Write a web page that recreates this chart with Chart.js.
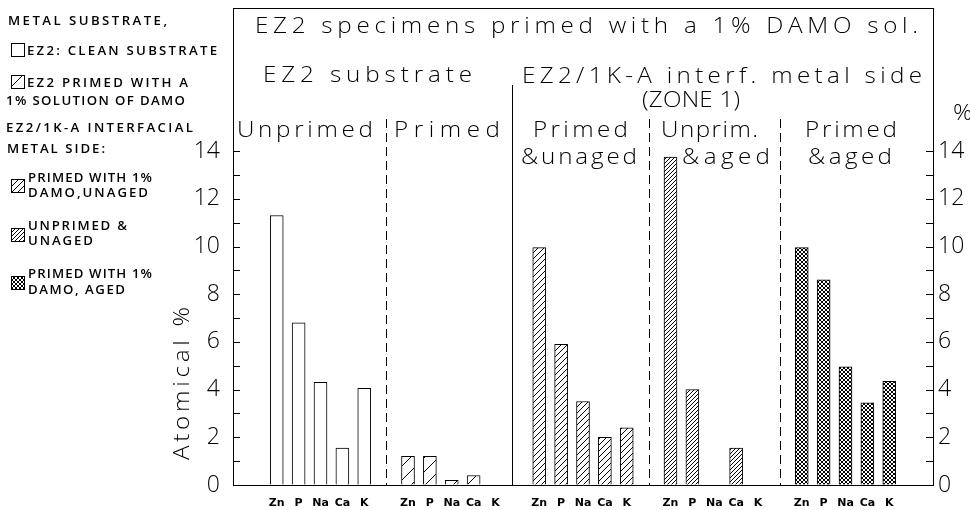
<!DOCTYPE html>
<html>
<head>
<meta charset="utf-8">
<script src="https://cdn.jsdelivr.net/npm/chart.js@4.4.1/dist/chart.umd.min.js"></script>
<style>
  html, body { margin: 0; padding: 0; background: #fff; }
</style>
</head>
<body>
<canvas id="atomChart" width="970" height="510"></canvas>
<script>
// elements on the x axis, same order in every group
const elements = ['Zn', 'P', 'Na', 'Ca', 'K'];

// atomical % per element, one array per specimen (null = no bar)
const cleanSubstrate  = [11.3, 6.8, 4.3, 1.55, 4.05];
const primedSubstrate = [1.2, 1.2, 0.2, 0.4, null];
const primedUnaged    = [9.95, 5.9, 3.5, 2.0, 2.4];
const unprimedUnaged  = [13.75, 4.0, null, 1.55, null];
const primedAged      = [9.95, 8.6, 4.95, 3.45, 4.35];

const yTicks = [0, 2, 4, 6, 8, 10, 12, 14];

const series = [cleanSubstrate, primedSubstrate, primedUnaged, unprimedUnaged, primedAged];

// 2 empty slots in front, a gap slot after each group, one extra at the end
const labels = ['', ''];
series.forEach(() => {
    elements.forEach(e => labels.push(e));
    labels.push('');
});
labels.push('');

function slotData(g) {
    const arr = labels.map(() => null);
    series[g].forEach((v, k) => { arr[2 + g * 6 + k] = v; });
    return arr;
}

// ======== fill patterns =========
const canvas = document.getElementById('atomChart');
const ctx = canvas.getContext('2d');

function makePattern(size, draw) {
    const c = document.createElement('canvas');
    c.width = size;
    c.height = size;
    const p = c.getContext('2d');
    p.fillStyle = '#fff';
    p.fillRect(0, 0, size, size);
    p.fillStyle = '#000';
    draw(p, size);
    return ctx.createPattern(c, 'repeat');
}
function rising(p, s) {
    for (let i = 0; i < s; i++) p.fillRect(i, s - 1 - i, 1, 1);
}
function cross(p, s) {
    for (let i = 0; i < s; i++) {
        p.fillRect(i, s - 1 - i, 1, 1);
        p.fillRect(i, i, 1, 1);
    }
}

const fills = [
    '#ffffff',
    makePattern(14, rising),
    makePattern(6, rising),
    makePattern(4, rising),
    makePattern(4, cross)
];

// ======== text helper: stretched, letter-spaced text fitted between x1 and x2 =========
function spaced(c, text, x1, x2, y, font, stretch) {
    const k = stretch || 1;
    c.save();
    c.font = font;
    c.letterSpacing = '0px';
    const w = c.measureText(text).width;
    const ls = text.length > 1 ? ((x2 - x1) / k - w) / (text.length - 1) : 0;
    c.letterSpacing = ls + 'px';
    c.textAlign = 'left';
    c.textBaseline = 'alphabetic';
    c.translate(x1, y);
    c.scale(k, 1);
    c.fillText(text, 0, 0);
    c.restore();
}

const headFont = '300 22px "Open Sans"';
const headStretch = 1.1;
const legFont = '600 12px "Open Sans"';

const headTexts = [
    ['EZ2 specimens primed with a 1% DAMO sol.', 255, 918, 33],
    ['EZ2 substrate', 263, 472, 82],
    ['EZ2/1K-A interf. metal side', 522, 922, 83],
    ['(ZONE 1)', 642, 740, 107],
    ['%', 953, 965, 120],
    ['Unprimed', 237, 373, 137],
    ['Primed', 394, 500, 137],
    ['Primed', 533, 628, 137],
    ['&unaged', 521, 637, 164],
    ['Unprim.', 661, 758, 137],
    ['&aged', 682, 770, 164],
    ['Primed', 805, 897, 137],
    ['&aged', 808, 892, 164]
];

const legendTexts = [
    ['METAL SUBSTRATE,', 8, 167, 25],
    ['EZ2: CLEAN SUBSTRATE', 27, 217, 55],
    ['EZ2 PRIMED WITH A', 27, 188, 87],
    ['1% SOLUTION OF DAMO', 6, 185, 105],
    ['EZ2/1K-A INTERFACIAL', 6, 193, 132],
    ['METAL SIDE:', 7, 105, 153],
    ['PRIMED WITH 1%', 28, 152, 182],
    ['DAMO,UNAGED', 28, 148, 197],
    ['UNPRIMED &', 28, 127, 230],
    ['UNAGED', 28, 93, 245],
    ['PRIMED WITH 1%', 28, 152, 278],
    ['DAMO, AGED', 28, 125, 294]
];
// swatch top per series
const legendBoxes = [43, 75, 179, 228, 276];

const overlay = {
    id: 'overlay',
    afterDraw(chart) {
        const c = chart.ctx;
        const area = chart.chartArea;
        const xs = chart.scales.x;
        const ys = chart.scales.y;
        c.save();
        c.strokeStyle = '#000';
        c.fillStyle = '#000';
        c.lineWidth = 1;

        // top frame line
        c.beginPath();
        c.moveTo(area.left, area.top + 0.5);
        c.lineTo(area.right, area.top + 0.5);
        c.stroke();

        // inward ticks on both value axes
        for (let v = 0; v <= 14; v++) {
            const py = Math.round(ys.getPixelForValue(v)) + 0.5;
            c.beginPath();
            c.moveTo(area.left, py);
            c.lineTo(area.left + 7, py);
            c.moveTo(area.right - 7, py);
            c.lineTo(area.right, py);
            c.stroke();
        }

        // substrate / interface separator
        const sx = Math.round(xs.getPixelForValue(12.75)) + 0.5;
        c.beginPath();
        c.moveTo(sx, 85);
        c.lineTo(sx, area.bottom);
        c.stroke();

        // dashed group separators
        c.setLineDash([9, 5]);
        [7, 19, 25].forEach(i => {
            const dx = Math.round(xs.getPixelForValue(i)) + 0.5;
            c.beginPath();
            c.moveTo(dx, 119);
            c.lineTo(dx, area.bottom);
            c.stroke();
        });
        c.setLineDash([]);

        headTexts.forEach(t => spaced(c, t[0], t[1], t[2], t[3], headFont, headStretch));

        // y title
        c.save();
        c.translate(189, 460);
        c.rotate(-Math.PI / 2);
        spaced(c, 'Atomical %', 0, 153, 0, headFont, headStretch);
        c.restore();

        // legend
        legendTexts.forEach(t => spaced(c, t[0], t[1], t[2], t[3], legFont, 1.1));
        legendBoxes.forEach((top, g) => {
            c.fillStyle = fills[g];
            c.fillRect(11, top, 13, 13);
            c.strokeRect(11.5, top + 0.5, 13, 13);
        });
        c.restore();
    }
};

const tickFont = { family: 'Open Sans', weight: 300, size: 23 };

function noEdgePadding(scale) {
    scale.paddingTop = 0;
    scale.paddingBottom = 0;
}

new Chart(ctx, {
    type: 'bar',
    data: {
        labels: labels,
        datasets: series.map((s, g) => ({
            data: slotData(g),
            backgroundColor: fills[g],
            borderColor: '#000',
            borderWidth: 1,
            barThickness: 13,
            grouped: false
        }))
    },
    options: {
        responsive: false,
        animation: false,
        devicePixelRatio: 1,
        layout: { padding: { top: 8, left: 165, right: 0, bottom: 0 } },
        plugins: {
            legend: { display: false },
            tooltip: { enabled: false }
        },
        scales: {
            x: {
                type: 'category',
                offset: false,
                grid: { display: false },
                border: { display: true, color: '#000', width: 1 },
                ticks: {
                    autoSkip: false,
                    maxRotation: 0,
                    minRotation: 0,
                    padding: 4,
                    color: '#000',
                    font: { family: 'DejaVu Sans', weight: 'bold', size: 11 }
                },
                afterFit(scale) {
                    scale.height = 25;
                    scale.paddingLeft = 0;
                    scale.paddingRight = 0;
                }
            },
            y: {
                position: 'left',
                min: 0,
                max: 20,
                afterBuildTicks(scale) { scale.ticks = yTicks.map(v => ({ value: v })); },
                grid: { drawOnChartArea: false, drawTicks: false },
                border: { display: true, color: '#000', width: 1 },
                ticks: { padding: 13, color: '#000', font: tickFont },
                afterFit(scale) {
                    scale.width = 68;
                    noEdgePadding(scale);
                }
            },
            y2: {
                position: 'right',
                min: 0,
                max: 20,
                afterBuildTicks(scale) { scale.ticks = yTicks.map(v => ({ value: v })); },
                grid: { drawOnChartArea: false, drawTicks: false },
                border: { display: true, color: '#000', width: 1 },
                ticks: { padding: 5, color: '#000', font: tickFont },
                afterFit(scale) {
                    scale.width = 37;
                    noEdgePadding(scale);
                }
            }
        }
    },
    plugins: [overlay]
});
</script>
</body>
</html>
